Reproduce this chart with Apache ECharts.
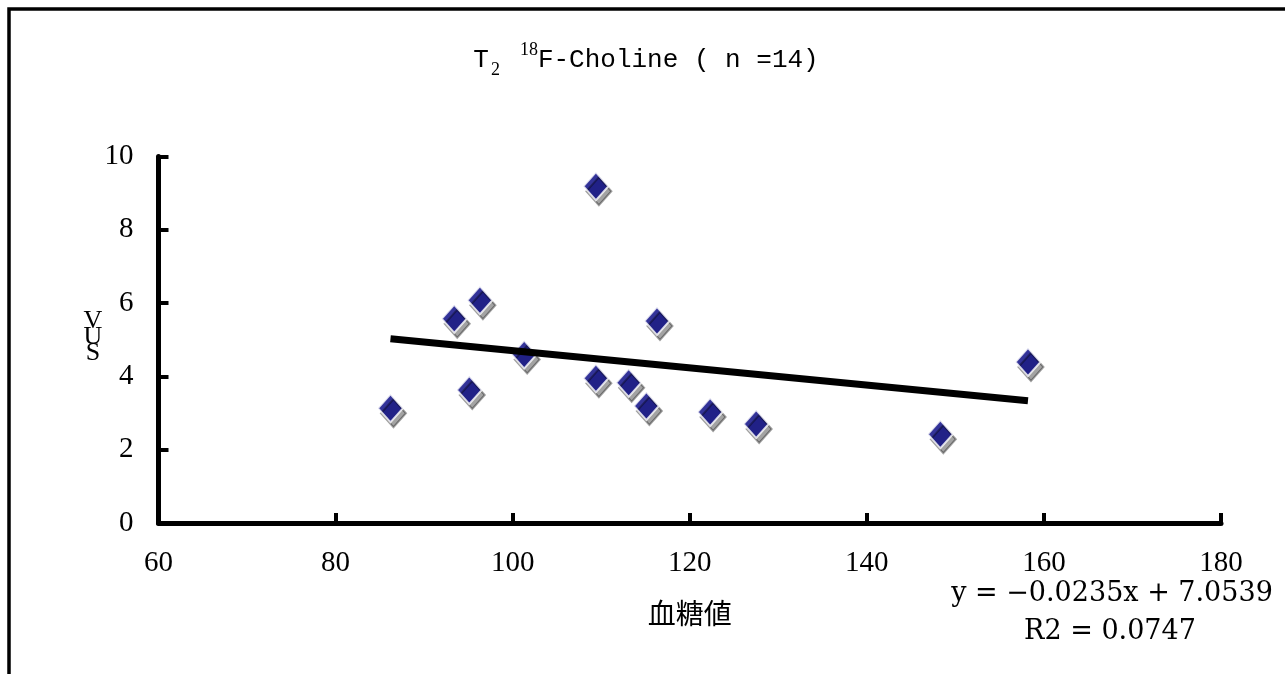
<!DOCTYPE html>
<html>
<head>
<meta charset="utf-8">
<script src="https://cdn.jsdelivr.net/npm/echarts@6/dist/echarts.min.js"></script>
<style>
html, body { margin: 0; padding: 0; background: #fff; }
#chart { width: 1285px; height: 674px; }
</style>
</head>
<body>
<div id="chart"></div>
<script>
// blood glucose (x) vs VUS (y), 14 patients
var glucose = [86.2, 93.4, 95.1, 96.3, 101.3, 109.4, 109.4, 113.1, 115.1, 116.3, 122.3, 127.5, 148.3, 158.2];
var vus     = [3.13, 5.57, 3.63, 6.08, 4.60, 9.19, 3.95, 3.83, 3.19, 5.51, 3.03, 2.70, 2.42, 4.39];
var xTicks = [60, 80, 100, 120, 140, 160, 180];
var yTicks = [0, 2, 4, 6, 8, 10];
// linear trendline as printed on the chart
var slope = -0.0235;
var intercept = 7.0539;
var rSquared = 0.0747;

var points = glucose.map(function (g, i) { return [g, vus[i]]; });
var xMin = Math.min.apply(null, glucose);
var xMax = Math.max.apply(null, glucose);
var trend = [[xMin, slope * xMin + intercept], [xMax, slope * xMax + intercept]];

var myChart = echarts.init(document.getElementById('chart'));

var option = {
    animation: false,
    backgroundColor: '#fff',
    grid: {
        left: 158.5,
        right: 64,
        top: 156.5,
        bottom: 151,
        outerBoundsMode: 'none'
    },
    xAxis: {
        type: 'value',
        min: xTicks[0],
        max: xTicks[xTicks.length - 1],
        interval: xTicks[1] - xTicks[0],
        name: '血糖値',
        nameLocation: 'middle',
        nameGap: 76,
        nameTextStyle: { fontFamily: 'Noto Sans CJK JP', fontSize: 28, color: '#000' },
        axisLine: { lineStyle: { color: '#000', width: 5 } },
        axisTick: { inside: true, length: 10, lineStyle: { color: '#000', width: 4 } },
        splitLine: { show: false },
        axisLabel: { fontFamily: 'Liberation Serif', fontSize: 29, color: '#000', margin: 26 }
    },
    yAxis: {
        type: 'value',
        min: yTicks[0],
        max: yTicks[yTicks.length - 1],
        interval: yTicks[1] - yTicks[0],
        axisLine: { show: true, lineStyle: { color: '#000', width: 5 } },
        axisTick: { show: true, inside: true, length: 10, lineStyle: { color: '#000', width: 4 } },
        splitLine: { show: false },
        axisLabel: { fontFamily: 'Liberation Serif', fontSize: 29, color: '#000', margin: 25 }
    },
    series: [
        {
            type: 'scatter',
            data: points,
            symbol: 'diamond',
            symbolSize: [25, 28],
            itemStyle: {
                color: '#000080',
                borderColor: '#fff',
                borderWidth: 2,
                shadowColor: 'rgba(0,0,0,0.45)',
                shadowOffsetX: 3,
                shadowOffsetY: 5,
                shadowBlur: 0
            },
            z: 2
        },
        {
            type: 'line',
            data: trend,
            symbol: 'none',
            silent: true,
            lineStyle: { color: '#000', width: 7 },
            z: 3
        }
    ],
    graphic: [
        {
            type: 'rect',
            shape: { x: 9, y: 9, width: 1400, height: 800 },
            style: { fill: 'none', stroke: '#000', lineWidth: 3.5 },
            silent: true
        },
        {
            type: 'text',
            x: 646,
            y: 60,
            style: {
                text: '{t|T}{sub|2}{sup|18}{t|F-Choline ( n =14)}',
                align: 'center',
                verticalAlign: 'middle',
                fill: '#000',
                rich: {
                    t: { fontFamily: 'Liberation Mono', fontSize: 26, lineHeight: 38, verticalAlign: 'middle' },
                    sub: { fontFamily: 'Liberation Serif', fontSize: 18, verticalAlign: 'bottom', padding: [0, 20, 0, 2] },
                    sup: { fontFamily: 'Liberation Serif', fontSize: 18, verticalAlign: 'top' }
                }
            }
        },
        {
            type: 'text',
            x: 93,
            y: 337,
            style: {
                text: 'V\nU\nS',
                fontFamily: 'Liberation Serif',
                fontSize: 26,
                lineHeight: 16,
                align: 'center',
                verticalAlign: 'middle',
                fill: '#000'
            }
        },
        {
            type: 'text',
            x: 1112,
            y: 594,
            style: {
                text: 'y = ' + slope.toFixed(4).replace('-', '−') + 'x + ' + intercept.toFixed(4),
                fontFamily: 'DejaVu Serif',
                fontSize: 27,
                align: 'center',
                verticalAlign: 'middle',
                fill: '#000'
            }
        },
        {
            type: 'text',
            x: 1110,
            y: 632,
            style: {
                text: 'R2 = ' + rSquared.toFixed(4),
                fontFamily: 'DejaVu Serif',
                fontSize: 27,
                align: 'center',
                verticalAlign: 'middle',
                fill: '#000'
            }
        }
    ]
};

myChart.setOption(option);
</script>
</body>
</html>
